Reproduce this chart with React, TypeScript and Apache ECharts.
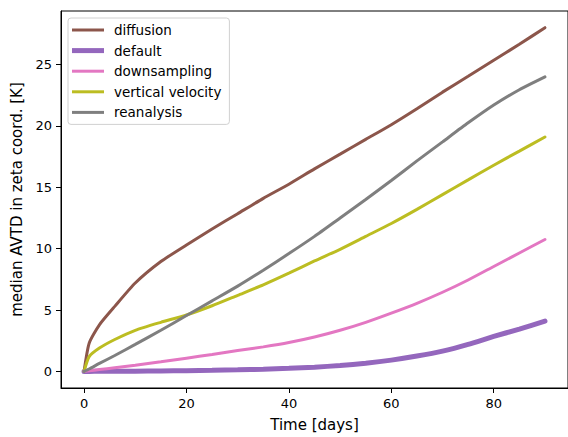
import React, { useEffect, useRef } from "react";
import * as echarts from "echarts";

const days = [0, 1, 3, 6, 10, 15, 20, 25, 30, 35, 40, 45, 50, 55, 60, 65, 70, 75, 80, 85, 90];
const diffusion = [0, 2.3, 3.8, 5.3, 7.2, 8.95, 10.3, 11.6, 12.85, 14.1, 15.25, 16.5, 17.7, 18.9, 20.1, 21.4, 22.75, 24.05, 25.35, 26.65, 28.0];
const defaultRun = [0, 0.0, 0.01, 0.01, 0.02, 0.04, 0.06, 0.09, 0.13, 0.18, 0.25, 0.35, 0.48, 0.67, 0.92, 1.25, 1.65, 2.2, 2.85, 3.45, 4.1];
const downsampling = [0, 0.05, 0.15, 0.3, 0.5, 0.78, 1.08, 1.38, 1.7, 2.0, 2.35, 2.8, 3.35, 4.0, 4.75, 5.55, 6.45, 7.45, 8.55, 9.65, 10.75];
const verticalVelocity = [0, 1.2, 1.9, 2.6, 3.35, 4.0, 4.6, 5.35, 6.2, 7.05, 8.0, 9.0, 9.95, 11.0, 12.05, 13.2, 14.4, 15.6, 16.8, 17.95, 19.1];
const reanalysis = [0, 0.2, 0.65, 1.3, 2.2, 3.35, 4.55, 5.75, 6.95, 8.25, 9.6, 11.0, 12.5, 14.0, 15.55, 17.15, 18.7, 20.25, 21.7, 22.95, 24.0];

const xTicks = [0, 20, 40, 60, 80];
const yTicks = [0, 5, 10, 15, 20, 25];

const seriesDefs = [
  { name: "diffusion", data: diffusion, color: "#8c564b", width: 3 },
  { name: "default", data: defaultRun, color: "#9467bd", width: 5 },
  { name: "downsampling", data: downsampling, color: "#e377c2", width: 3 },
  { name: "vertical velocity", data: verticalVelocity, color: "#bcbd22", width: 3 },
  { name: "reanalysis", data: reanalysis, color: "#7f7f7f", width: 3 },
];

export default function App() {
  const ref = useRef<HTMLDivElement>(null);
  useEffect(() => {
    if (!ref.current) return;
    const chart = echarts.init(ref.current, null, { renderer: "svg" });
    const font = "DejaVu Sans";
    chart.setOption({
      animation: false,
      backgroundColor: "#ffffff",
      textStyle: { fontFamily: font },
      grid: {
        left: 61,
        right: 0,
        top: 11,
        bottom: 47,
        show: true,
        borderColor: "#000",
        borderWidth: 1,
        backgroundColor: "transparent",
      },
      legend: {
        orient: "vertical",
        left: 68,
        top: 18,
        padding: [5, 8, 5, 4],
        itemWidth: 32,
        itemHeight: 14,
        itemGap: 6.6,
        borderColor: "#d0d0d0",
        borderWidth: 1,
        borderRadius: 3,
        backgroundColor: "rgba(255,255,255,0.8)",
        textStyle: { fontFamily: font, fontSize: 13.5, color: "#000", padding: [0, 0, 0, 5] },
        data: seriesDefs.map((s) => ({
          name: s.name,
          icon: "path://M0,0h32v" + s.width + "h-32z",
        })),
      },
      xAxis: {
        type: "value",
        min: -4.5,
        max: 94.5,
        name: "Time [days]",
        nameLocation: "middle",
        nameGap: 29,
        nameTextStyle: { fontFamily: font, fontSize: 15, color: "#000" },
        splitLine: { show: false },
        axisLine: { show: true, onZero: false, lineStyle: { color: "#000", width: 1 } },
        axisTick: { show: true, length: 5, lineStyle: { color: "#000" }, customValues: xTicks },
        axisLabel: { fontFamily: font, fontSize: 13, color: "#000", margin: 9, customValues: xTicks },
      },
      yAxis: {
        type: "value",
        min: -1.35,
        max: 29.36,
        name: "median AVTD in zeta coord. [K]",
        nameLocation: "middle",
        nameGap: 32,
        nameTextStyle: { fontFamily: font, fontSize: 15, color: "#000" },
        splitLine: { show: false },
        axisLine: { show: true, onZero: false, lineStyle: { color: "#000", width: 1 } },
        axisTick: { show: true, length: 5, lineStyle: { color: "#000" }, customValues: yTicks },
        axisLabel: { fontFamily: font, fontSize: 13, color: "#000", margin: 9, customValues: yTicks },
      },
      series: seriesDefs.map((s) => ({
        name: s.name,
        type: "line",
        data: days.map((d, i) => [d, s.data[i]]),
        symbol: "none",
        smooth: 0.2,
        color: s.color,
        lineStyle: { color: s.color, width: s.width, cap: "round" },
      })),
    });
    return () => chart.dispose();
  }, []);
  return <div ref={ref} style={{ width: 568, height: 437, position: "absolute", left: 0, top: 0 }} />;
}
